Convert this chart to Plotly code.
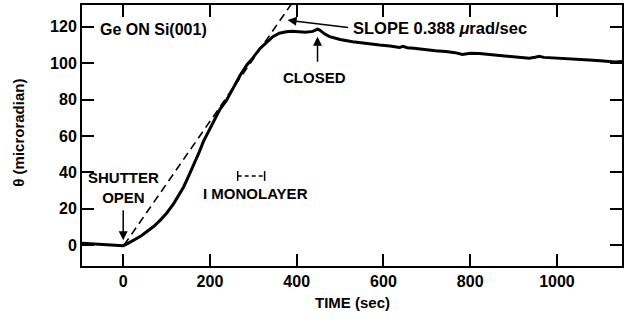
import plotly.graph_objects as go

# ---- data ----
time_s = [-95, -60, -30, -10, 0, 10, 24, 40, 54, 70, 85, 100, 116, 130, 139, 150, 162, 175,
          185, 198, 208, 223, 238, 255, 270, 285, 296, 315, 330, 345, 360, 376, 390, 407,
          420, 437, 448, 453, 465, 476, 500, 529, 560, 591, 615, 637, 645, 655, 670, 698,
          720, 744, 765, 782, 800, 821, 851, 875, 897, 920, 936, 950, 959, 970, 989, 1010,
          1028, 1050, 1074, 1100, 1120, 1135, 1150]
theta = [1.0, 0.6, 0.3, 0.0, -0.3, 0.8, 2.7, 4.8, 7.3, 10.2, 13.6, 17.5, 22.7, 28.0, 31.8,
         37.5, 43.6, 51.0, 57.0, 63.0, 68.0, 74.6, 79.5, 87.0, 93.5, 99.0, 102.0, 108.0,
         111.5, 114.6, 116.5, 117.3, 117.5, 117.3, 117.0, 117.5, 118.7, 118.2, 116.0, 114.6,
         113.0, 111.8, 110.8, 110.0, 109.5, 108.6, 109.3, 108.5, 108.2, 107.3, 106.8, 106.4,
         105.8, 104.8, 105.5, 105.3, 104.6, 104.2, 103.7, 103.2, 102.7, 103.3, 103.8, 103.2,
         103.0, 102.8, 102.7, 102.3, 101.8, 101.4, 101.0, 100.6, 101.0]

slope_x = [2, 392]
slope_y = [0, 134]

mono_x = [264, 326]
mono_y = [38, 38]

x_ticks = [0, 200, 400, 600, 800, 1000]
y_ticks = [0, 20, 40, 60, 80, 100, 120]

FONT = "Liberation Sans Narrow, Liberation Sans, Arial, sans-serif"

fig = go.Figure()
fig.add_trace(go.Scatter(x=slope_x, y=slope_y, mode="lines",
                         line=dict(color="black", width=1.6, dash="8px,5px"),
                         hoverinfo="skip", showlegend=False))
fig.add_trace(go.Scatter(x=time_s, y=theta, mode="lines",
                         line=dict(color="black", width=3), showlegend=False))
fig.add_trace(go.Scatter(x=mono_x, y=mono_y, mode="lines+markers",
                         line=dict(color="black", width=1.5, dash="4px,3px"),
                         marker=dict(symbol="line-ns", size=7,
                                     line=dict(color="black", width=1.5)),
                         showlegend=False))

tf = dict(family=FONT, size=15, color="black", weight="bold")
tf16 = dict(family=FONT, size=16, color="black", weight="bold")
ann = []
ann.append(dict(x=-57, y=118.4, text="Ge ON Si(001)", showarrow=False,
                xanchor="left", yanchor="middle", font=tf16))
ann.append(dict(x=526, y=119.5, text="SLOPE 0.388 <i>μ</i>rad/sec", showarrow=False,
                xanchor="left", yanchor="middle", font=dict(family=FONT, size=16.5, color="black", weight="bold")))
ann.append(dict(x=441, y=92.2, text="CLOSED", showarrow=False,
                xanchor="center", yanchor="middle", font=tf))
ann.append(dict(x=1, y=31.6, text="SHUTTER<br>OPEN", showarrow=False,
                xanchor="center", yanchor="middle", font=tf))
ann.append(dict(x=304, y=28.4, text="I MONOLAYER", showarrow=False,
                xanchor="center", yanchor="middle", font=tf))
# arrows
arrow = dict(text="", showarrow=True, axref="x", ayref="y", arrowhead=2,
             arrowsize=1.2, arrowwidth=1.5, arrowcolor="black")
ann.append(dict(x=0, y=2.7, ax=0, ay=20, **arrow))
ann.append(dict(x=448, y=114.5, ax=448, ay=100, **arrow))
ann.append(dict(x=379, y=123.7, ax=522, ay=119.5, **arrow))
# axis titles
ann.append(dict(xref="paper", yref="paper", x=0.5, y=-0.141, text="TIME (sec)",
                showarrow=False, xanchor="center", yanchor="middle", font=tf))
ann.append(dict(xref="paper", yref="paper", x=-0.117, y=0.51, text="θ (microradian)",
                textangle=-90, showarrow=False, xanchor="center", yanchor="middle", font=tf))

axis_common = dict(showgrid=False, zeroline=False, showline=True, linecolor="black",
                   linewidth=2, ticks="inside", ticklen=12, tickwidth=2, tickcolor="black",
                   mirror="ticks", tickfont=dict(family=FONT, size=16, color="black", weight="bold"))

fig.update_layout(
    width=629, height=326,
    margin=dict(l=82, r=7, t=3, b=60),
    paper_bgcolor="white", plot_bgcolor="white",
    xaxis=dict(range=[-95, 1150], tickvals=x_ticks, ticktext=[str(v) for v in x_ticks], **axis_common),
    yaxis=dict(range=[-11.5, 132], tickvals=y_ticks, ticktext=[str(v) for v in y_ticks], **axis_common),
    annotations=ann,
    showlegend=False,
)

fig.write_html("out.html")
